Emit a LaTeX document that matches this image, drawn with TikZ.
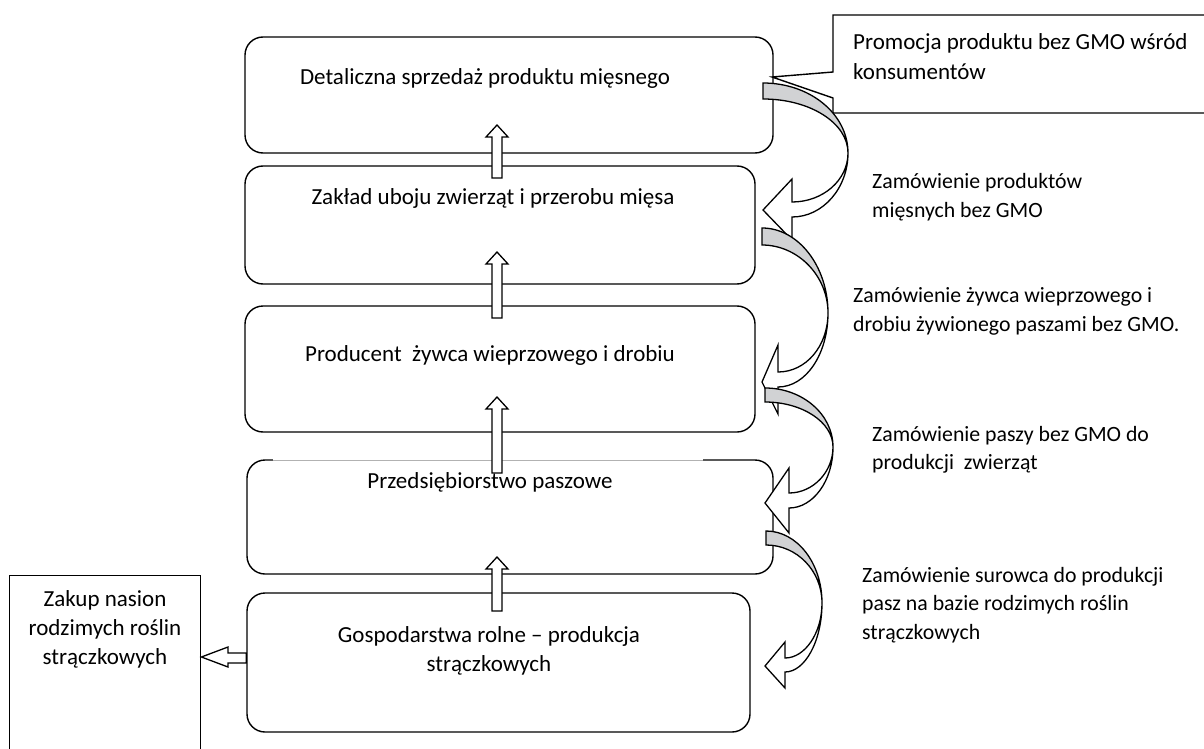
\documentclass[tikz,border=0pt]{standalone}
\usepackage{fontspec}
\setmainfont{Carlito}
\usetikzlibrary{positioning}
\definecolor{bandgray}{RGB}{209,210,212}
\tikzset{
  stage/.style={draw, rounded corners=18pt, line width=1.4pt, inner sep=0pt},
  txt/.style={font=\fontsize{23}{29}\selectfont, inner sep=0pt, align=center},
  note/.style={font=\fontsize{21.8}{28.5}\selectfont, inner sep=0pt, align=left, anchor=west},
  fatarrow/.style={draw, fill=white, line width=1.3pt, line join=miter},
  band/.style={draw, line width=1.3pt, fill=bandgray},
  bandtip/.style={draw, line width=1.3pt, fill=white},
}
\begin{document}
\begin{tikzpicture}[x=1pt, y=-1pt]
 \clip (0,0) rectangle (1204,749);
 \node[stage, minimum width=528pt, minimum height=116pt] (b1) at (509,95) {};
 \node[stage, minimum width=510pt, minimum height=118pt] (b2) at (500,225) {};
 \node[stage, minimum width=510pt, minimum height=126pt] (b3) at (500,369) {};
 \node[stage, minimum width=526pt, minimum height=114pt] (b4) at (510,517) {};
 \node[stage, minimum width=503pt, minimum height=139pt] (b5) at (498.5,662.5) {};
 \draw[white, line width=2.5pt] (273,460) -- (703,460);
 \draw[black!30, line width=0.8pt] (273,460) -- (703,460);

 \node[txt] (t1) at (485,78) {Detaliczna sprzedaż produktu mięsnego};
 \node[txt] (t2) at (493,198) {Zakład uboju zwierząt i przerobu mięsa};
 \node[txt] (t3) at (490,355) {Producent\ \ żywca wieprzowego i drobiu};
 \node[txt] (t4) at (490,482) {Przedsiębiorstwo paszowe};
 \node[txt] (t5) at (489,651) {Gospodarstwa rolne – produkcja\\strączkowych};

 \foreach \yt/\yb in {125/178, 252/318, 397/473, 557/611}
  \draw[fatarrow] (492,\yb) -- (492,\yt+12) -- (486,\yt+12) -- (497,\yt) -- (508,\yt+12) -- (502,\yt+12) -- (502,\yb) -- cycle;

 \node[draw, line width=1.4pt, minimum width=191pt, minimum height=200pt, anchor=north west] (seeds) at (9,575) {};
 \node[txt] (seedtxt) at (105,629) {Zakup nasion\\rodzimych roślin\\strączkowych};
 \draw[fatarrow] (b5.west |- 0,653) -- (228,653) -- (228,647) -- (seeds.east |- 0,657) -- (228,667) -- (228,663) -- (b5.west |- 0,663) -- cycle;

 \draw[line width=1.4pt] (833,72) -- (833,15) -- (1215,15) -- (1215,113) -- (833,113) -- (833,98) -- (772,77) -- cycle;
 \node[txt, align=left, anchor=west] (promo) at (853,57) {Promocja produktu bez GMO wśród\\[1pt]konsumentów};

 \filldraw[band] (763,83) .. controls (810,83) and (848,114) .. (848,153) .. controls (848,123) and (810,99) .. (763,99) -- cycle;
 \filldraw[bandtip] (848,153) .. controls (848,188) and (823,217) .. (792,217) -- (792,240) -- (763,210) -- (792,179) -- (792,202) .. controls (823,202) and (848,180) .. (848,153) -- cycle;
 \filldraw[band] (762,228) .. controls (798,228) and (828,266) .. (828,313) .. controls (828,276) and (798,245) .. (762,245) -- cycle;
 \filldraw[bandtip] (828,313) .. controls (828,354) and (806,387) .. (778,387) -- (778,414) -- (762,382) -- (778,345) -- (778,372) .. controls (806,372) and (828,346) .. (828,313) -- cycle;
 \filldraw[band] (765,388) .. controls (802,388) and (833,414) .. (833,447) .. controls (833,422) and (802,402) .. (765,402) -- cycle;
 \filldraw[bandtip] (833,447) .. controls (833,481) and (813,508) .. (789,508) -- (789,533) -- (765,503) -- (789,468) -- (789,493) .. controls (813,493) and (833,472) .. (833,447) -- cycle;
 \filldraw[band] (766,531) .. controls (797,531) and (822,563) .. (822,603) .. controls (822,571) and (797,545) .. (766,545) -- cycle;
 \filldraw[bandtip] (822,603) .. controls (822,641) and (805,672) .. (785,672) -- (785,688) -- (765,666) -- (785,642) -- (785,658) .. controls (805,658) and (822,633) .. (822,603) -- cycle;

 \node[note] (n1) at (872,197) {Zamówienie produktów\\mięsnych bez GMO};
 \node[note] (n2) at (853,311.5) {Zamówienie żywca wieprzowego i\\drobiu żywionego paszami bez GMO.};
 \node[note] (n3) at (872,450) {Zamówienie paszy bez GMO do\\produkcji\ \ zwierząt};
 \node[note] (n4) at (862,605) {Zamówienie surowca do produkcji\\pasz na bazie rodzimych roślin\\strączkowych};
\end{tikzpicture}
\end{document}
